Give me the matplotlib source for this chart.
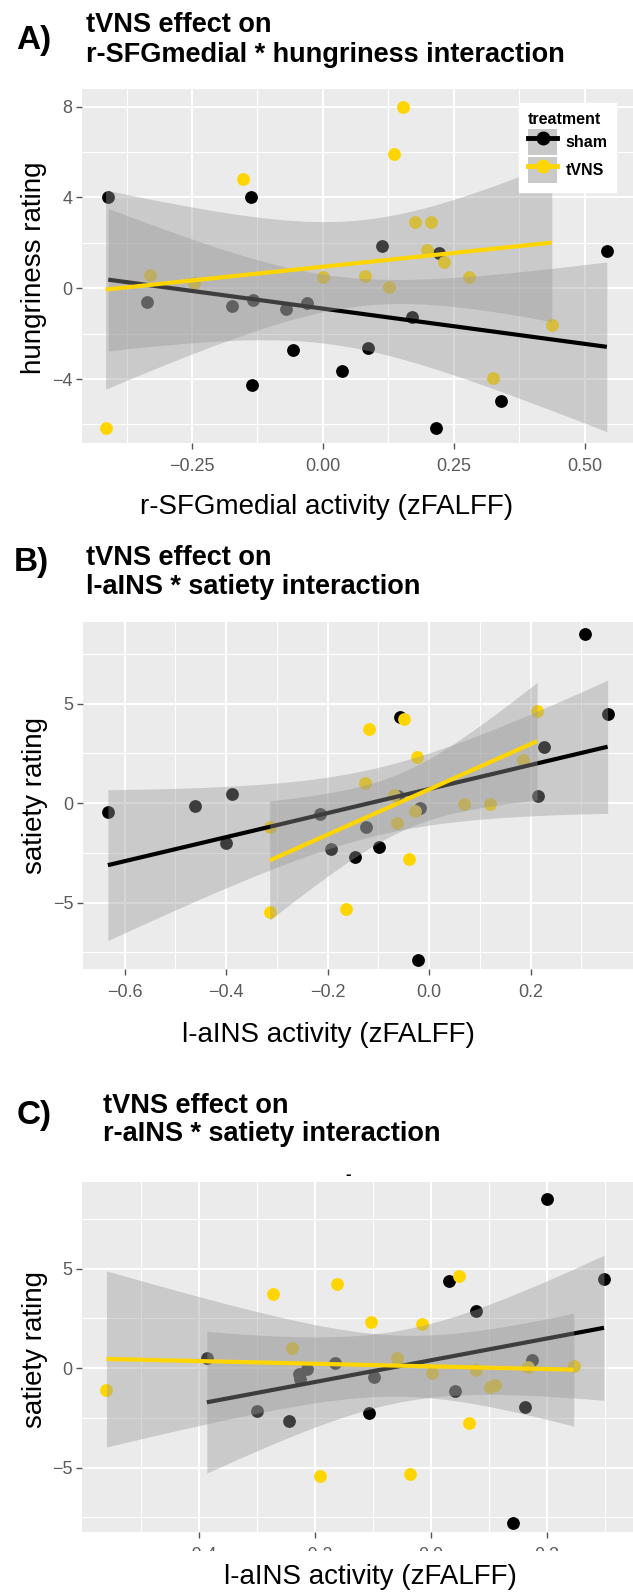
import matplotlib
matplotlib.use("Agg")
import matplotlib.pyplot as plt
import numpy as np
from matplotlib.lines import Line2D
from matplotlib.patches import Patch, Rectangle
from matplotlib.legend_handler import HandlerTuple

plt.rcParams["font.family"] = ["Liberation Sans", "DejaVu Sans"]

W, H = 633, 1594
GOLD = "#FFD500"

# A) r-SFGmedial activity vs hungriness rating
a_sham_x = [-0.410, -0.137, 0.113, 0.221, 0.542, -0.335, -0.173, -0.133, -0.070,
            -0.031, 0.170, -0.057, 0.086, 0.036, -0.135, 0.340, 0.216]
a_sham_y = [4.0, 4.0, 1.85, 1.55, 1.65, -0.6, -0.8, -0.5, -0.9,
            -0.65, -1.25, -2.7, -2.65, -3.65, -4.25, -4.95, -6.15]
a_tvns_x = [-0.152, 0.152, 0.135, 0.176, 0.206, 0.199, 0.231, -0.330,
            -0.246, 0.000, 0.080, 0.126, 0.279, 0.437, 0.325, -0.415]
a_tvns_y = [4.8, 8.0, 5.9, 2.9, 2.9, 1.7, 1.15, 0.6,
            0.25, 0.5, 0.55, 0.05, 0.5, -1.6, -3.95, -6.15]

# B) l-aINS activity vs satiety rating
b_sham_x = [0.307, 0.352, -0.057, 0.227, -0.633, -0.461, -0.388, -0.400, -0.215,
            -0.193, -0.124, -0.146, -0.099, -0.062, -0.018, 0.215, -0.022]
b_sham_y = [8.5, 4.5, 4.35, 2.8, -0.45, -0.15, 0.45, -2.0, -0.55,
            -2.3, -1.2, -2.7, -2.2, 0.35, -0.25, 0.35, -7.9]
b_tvns_x = [-0.050, -0.118, 0.213, -0.024, 0.185, -0.126, -0.314, -0.063,
            -0.039, -0.028, 0.069, 0.121, -0.314, -0.164, -0.070]
b_tvns_y = [4.2, 3.7, 4.65, 2.3, 2.15, 1.0, -1.2, -1.0,
            -2.8, -0.4, -0.05, -0.05, -5.5, -5.3, 0.4]

# C) r-aINS activity vs satiety rating
c_sham_x = [0.200, 0.298, 0.031, 0.077, -0.386, -0.165, 0.174, -0.227, -0.213,
            -0.225, -0.098, 0.041, -0.300, -0.244, -0.107, 0.162, 0.141]
c_sham_y = [8.5, 4.5, 4.35, 2.85, 0.5, 0.25, 0.4, -0.3, -0.05,
            -0.55, -0.45, -1.15, -2.15, -2.65, -2.25, -1.95, -7.8]
c_tvns_x = [0.048, -0.162, -0.272, -0.103, -0.015, -0.239, -0.059, 0.246, 0.167,
            0.002, 0.077, 0.102, 0.110, -0.559, 0.065, -0.191, -0.036]
c_tvns_y = [4.65, 4.2, 3.7, 2.3, 2.2, 1.0, 0.5, 0.1, 0.05,
            -0.25, -0.1, -0.95, -0.85, -1.1, -2.75, -5.45, -5.3]

a_xticks = [-0.25, 0.0, 0.25, 0.5]
a_xlabels = ["\u22120.25", "0.00", "0.25", "0.50"]
a_yticks = [-4, 0, 4, 8]
a_ylabels = ["\u22124", "0", "4", "8"]
b_xticks = [-0.6, -0.4, -0.2, 0.0, 0.2]
b_xlabels = ["\u22120.6", "\u22120.4", "\u22120.2", "0.0", "0.2"]
c_xticks = [-0.4, -0.2, 0.0, 0.2]
c_xlabels = ["\u22120.4", "\u22120.2", "0.0", "0.2"]
sat_yticks = [-5, 0, 5]
sat_ylabels = ["\u22125", "0", "5"]

T975 = {12: 2.179, 13: 2.160, 14: 2.145, 15: 2.131, 16: 2.120, 17: 2.110}

fig = plt.figure(figsize=(W / 100, H / 100), dpi=100)


def fx(px):
    return px / W


def fy(py):
    return 1 - py / H


def add_panel(box, xlim, ylim, xticks, xlabels, yticks, ylabels, xminor, yminor):
    l, t, r, b = box
    ax = fig.add_axes([fx(l), fy(b), (r - l) / W, (b - t) / H])
    ax.set_facecolor("#EBEBEB")
    for sp in ax.spines.values():
        sp.set_visible(False)
    ax.set_xlim(*xlim)
    ax.set_ylim(*ylim)
    ax.set_xticks(xticks)
    ax.set_xticklabels(xlabels)
    ax.set_yticks(yticks)
    ax.set_yticklabels(ylabels)
    ax.set_xticks(xminor, minor=True)
    ax.set_yticks(yminor, minor=True)
    ax.grid(which="major", color="white", lw=1.5, zorder=0)
    ax.grid(which="minor", color="white", lw=0.8, zorder=0)
    ax.set_axisbelow(True)
    ax.tick_params(which="major", length=4, width=1, color="#555555",
                   labelsize=13, labelcolor="#5a5a5a")
    ax.tick_params(axis="x", pad=7)
    ax.tick_params(axis="y", pad=3)
    ax.tick_params(which="minor", length=0)
    return ax


def draw_fit(ax, x, y, color, z):
    x = np.asarray(x)
    y = np.asarray(y)
    n = len(x)
    slope, icpt = np.polyfit(x, y, 1)
    xs = np.linspace(x.min(), x.max(), 100)
    ys = icpt + slope * xs
    resid = y - (icpt + slope * x)
    s = np.sqrt(np.sum(resid ** 2) / (n - 2))
    sxx = np.sum((x - x.mean()) ** 2)
    half = T975[n - 2] * s * np.sqrt(1 / n + (xs - x.mean()) ** 2 / sxx)
    ax.fill_between(xs, ys - half, ys + half, color="#999999", alpha=0.4,
                    lw=0, zorder=z)
    ax.plot(xs, ys, color=color, lw=3, zorder=z + 0.5, solid_capstyle="butt")


def draw_data(ax, sx, sy, tx, ty):
    ax.scatter(sx, sy, s=85, color="black", lw=0, zorder=2)
    ax.scatter(tx, ty, s=85, color=GOLD, lw=0, zorder=2)
    draw_fit(ax, sx, sy, "black", 3)
    draw_fit(ax, tx, ty, GOLD, 4)


ax_a = add_panel((82, 89, 633, 443), (-0.460, 0.592), (-6.82, 8.78),
                 a_xticks, a_xlabels, a_yticks, a_ylabels,
                 [-0.375, -0.125, 0.125, 0.375], [-6, -2, 2, 6])
draw_data(ax_a, a_sham_x, a_sham_y, a_tvns_x, a_tvns_y)

ax_b = add_panel((83, 622, 633, 969), (-0.682, 0.402), (-8.34, 9.10),
                 b_xticks, b_xlabels, sat_yticks, sat_ylabels,
                 [-0.5, -0.3, -0.1, 0.1, 0.3], [-7.5, -2.5, 2.5, 7.5])
draw_data(ax_b, b_sham_x, b_sham_y, b_tvns_x, b_tvns_y)

ax_c = add_panel((82, 1182, 633, 1532), (-0.601, 0.348), (-8.24, 9.35),
                 c_xticks, c_xlabels, sat_yticks, sat_ylabels,
                 [-0.5, -0.3, -0.1, 0.1, 0.3], [-7.5, -2.5, 2.5, 7.5])
draw_data(ax_c, c_sham_x, c_sham_y, c_tvns_x, c_tvns_y)

# legend (panel A only): grey key with line and point drawn on top
handles = [
    (Patch(facecolor="#C9C9C9", edgecolor="none"),
     Line2D([], [], color="black", lw=3.5, marker="o", ms=9)),
    (Patch(facecolor="#C9C9C9", edgecolor="none"),
     Line2D([], [], color=GOLD, lw=3.5, marker="o", ms=9)),
]
leg = ax_a.legend(handles, ["sham", "tVNS"], title="treatment",
                  handler_map={tuple: HandlerTuple(ndivide=1, pad=0)},
                  loc="upper left", bbox_to_anchor=(fx(519), fy(103)),
                  bbox_transform=fig.transFigure, borderaxespad=0,
                  prop={"weight": "bold", "size": 11.5},
                  title_fontproperties={"weight": "bold", "size": 11.5},
                  alignment="left", fancybox=False, framealpha=1,
                  edgecolor="white", facecolor="white",
                  handlelength=1.85, handleheight=2.1, labelspacing=0.15,
                  handletextpad=0.5, borderpad=0.55, numpoints=1)
leg.set_zorder(10)

# panel letters and titles
title_kw = dict(fontsize=19.5, fontweight="bold", ha="left", va="baseline")
for letter, lx, ly, tx, y1, y2, line2 in [
    ("A)", 16, 49, 86, 32, 62, "r-SFGmedial * hungriness interaction"),
    ("B)", 14, 571, 86, 565, 594, "l-aINS * satiety interaction"),
    ("C)", 17, 1124, 103, 1113, 1141, "r-aINS * satiety interaction"),
]:
    fig.text(fx(lx), fy(ly), letter, fontsize=24, fontweight="bold",
             ha="left", va="baseline")
    fig.text(fx(tx), fy(y1), "tVNS effect on", **title_kw)
    fig.text(fx(tx), fy(y2), line2, **title_kw)

# stray mark above panel C
fig.text(fx(348), fy(1174), "-", fontsize=12, fontweight="bold",
         ha="center", va="center")

# axis titles
lab_kw = dict(fontsize=20, ha="center", va="center", zorder=12)
fig.text(fx(327), fy(507), "r-SFGmedial activity (zFALFF)", **lab_kw)
fig.text(fx(328), fy(1035), "l-aINS activity (zFALFF)", **lab_kw)
fig.text(fx(370), fy(1577), "l-aINS activity (zFALFF)", **lab_kw)
fig.text(fx(34), fy(268), "hungriness rating", rotation=90, **lab_kw)
fig.text(fx(35), fy(795), "satiety rating", rotation=90, **lab_kw)
fig.text(fx(35), fy(1349), "satiety rating", rotation=90, **lab_kw)

# panel C tick labels are cut in the original image
fig.add_artist(Rectangle((0, fy(1566)), 1, (1566 - 1551) / H,
                         transform=fig.transFigure, facecolor="white",
                         edgecolor="none", zorder=11))

fig.savefig("out.png", dpi=100)
